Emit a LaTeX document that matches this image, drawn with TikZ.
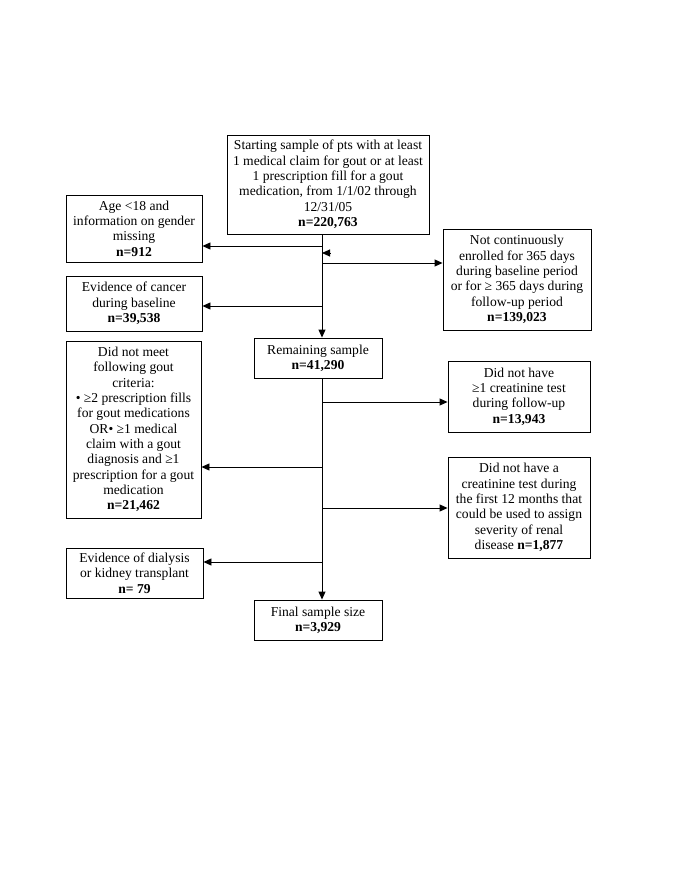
\documentclass[tikz,border=0pt]{standalone}
\usepackage{fontspec}
\setmainfont{Liberation Serif}
\usetikzlibrary{arrows.meta}
\begin{document}
\begin{tikzpicture}[x=1pt,y=-1pt,
 box/.style={draw, line width=0.9pt, align=center, inner sep=0pt, font=\fontsize{13.6}{15.3}\selectfont},
 conn/.style={line width=0.9pt, -{Triangle[length=8pt,width=7pt]}},
 ln/.style={line width=0.9pt}]
\useasboundingbox (0,0) rectangle (685,886);
\node[box, minimum width=202pt, minimum height=99pt] (top) at (328,184.5)
 {Starting sample of pts with at least\\1 medical claim for gout or at least\\1 prescription fill for a gout\\medication, from 1/1/02 through\\12/31/05\\\textbf{n=220,763}};
\node[box, minimum width=136pt, minimum height=67pt] (age) at (134,228.5)
 {Age <18 and\\information on gender\\missing\\\textbf{n=912}};
\node[box, minimum width=148pt, minimum height=101pt] (notc) at (517,279.5)
 {Not continuously\\enrolled for 365 days\\during baseline period\\or for ≥ 365 days during\\follow-up period\\\textbf{n=139,023}};
\node[box, minimum width=136pt, minimum height=55pt] (canc) at (134,303.5)
 {Evidence of cancer\\during baseline\\\textbf{n=39,538}};
\node[box, minimum width=128pt, minimum height=40pt] (rem) at (318,358)
 {Remaining sample\\\textbf{n=41,290}};
\node[box, minimum width=135pt, minimum height=177pt] (gout) at (133.5,429.5)
 {Did not meet\\following gout\\criteria:\\• ≥2 prescription fills\\for gout medications\\OR• ≥1 medical\\claim with a gout\\diagnosis and ≥1\\prescription for a gout\\medication\\\textbf{n=21,462}};
\node[box, minimum width=142pt, minimum height=71pt] (cr1) at (519,396.5)
 {Did not have\\≥1 creatinine test\\during follow-up\\\textbf{n=13,943}};
\node[box, minimum width=142pt, minimum height=101pt] (cr2) at (519,507.5)
 {Did not have a\\creatinine test during\\the first 12 months that\\could be used to assign\\severity of renal\\disease \textbf{n=1,877}};
\node[box, minimum width=137pt, minimum height=50pt] (dial) at (134.5,573)
 {Evidence of dialysis\\or kidney transplant\\\textbf{n= 79}};
\node[box, minimum width=128pt, minimum height=40pt] (fin) at (318,620)
 {Final sample size\\\textbf{n=3,929}};
\coordinate (m) at (322,0);
\coordinate (j1) at (322,246);
\coordinate (j2) at (322,263);
\coordinate (k0) at (330,253);
\coordinate (k1) at (322,253);
\coordinate (j3) at (322,306);
\coordinate (j4) at (322,402);
\coordinate (j5) at (322,467);
\coordinate (j6) at (322,508);
\coordinate (j7) at (322,562);
\draw[conn] (top.south -| m) -- (rem.north -| m);
\draw[conn] (rem.south -| m) -- (fin.north -| m);
\draw[conn] (j1) -- (j1 -| age.east);
\draw[conn] (j2) -- (j2 -| notc.west);
\draw[conn] (k0) -- (k1);
\draw[conn] (j3) -- (j3 -| canc.east);
\draw[conn] (j4) -- (j4 -| cr1.west);
\draw[conn] (j5) -- (j5 -| gout.east);
\draw[conn] (j6) -- (j6 -| cr2.west);
\draw[conn] (j7) -- (j7 -| dial.east);
\end{tikzpicture}
\end{document}
